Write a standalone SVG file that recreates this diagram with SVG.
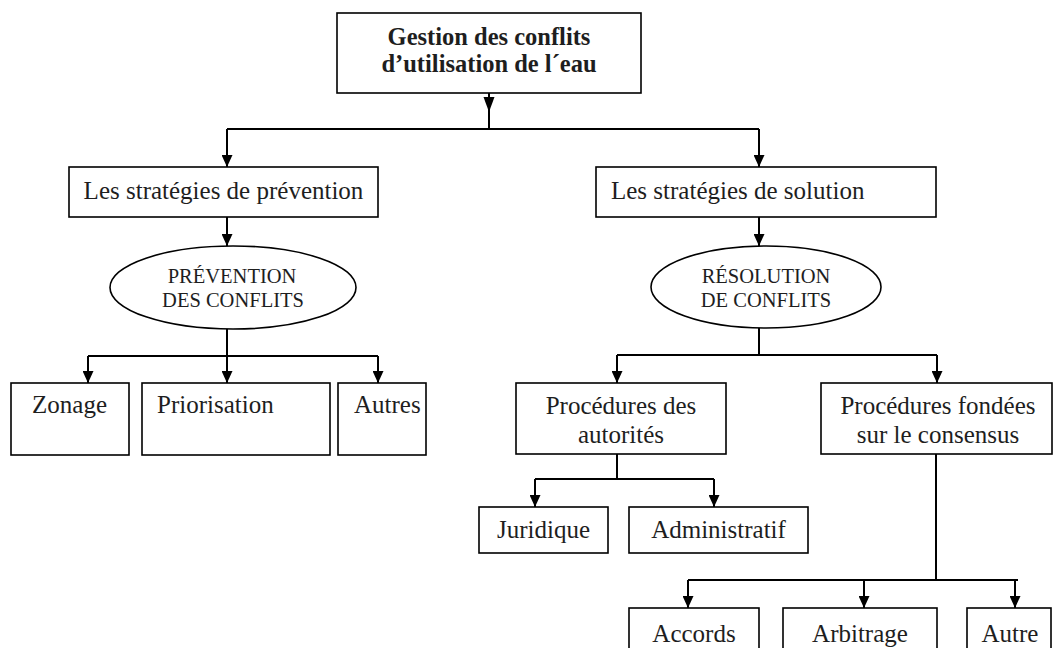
<svg xmlns="http://www.w3.org/2000/svg" width="1054" height="648" viewBox="0 0 1054 648">
<style>
.box{fill:#fff;stroke:#000;stroke-width:1.6}
.t{font-family:"Liberation Serif","Times New Roman",serif;font-size:25px;fill:#1e1e1e}
.b{font-weight:bold;font-size:24.5px}
.s{font-size:20.5px}
.c{text-anchor:middle}
.ln{fill:none;stroke:#000;stroke-width:2}
.ah{fill:#000}
</style>
<defs>
<marker id="arr" viewBox="0 0 12 11" refX="12" refY="5.5" markerWidth="12" markerHeight="11" markerUnits="userSpaceOnUse" orient="auto">
<path d="M0,0 L12,5.5 L0,11 z" fill="#000"/>
</marker>
</defs>
<rect width="1054" height="648" fill="#fff"/>
<g id="connectors">
<path class="ln" d="M489,93 V129"/>
<path class="ah" d="M483.5,97 H494.5 L489,112 z"/>
<path class="ln" d="M227,129 H759"/>
<path class="ln" d="M227,129 V167" marker-end="url(#arr)"/>
<path class="ln" d="M759,129 V167" marker-end="url(#arr)"/>
<path class="ln" d="M227,217 V246" marker-end="url(#arr)"/>
<path class="ln" d="M759,217 V246" marker-end="url(#arr)"/>
<path class="ln" d="M227,329 V356 M88,356 H378"/>
<path class="ln" d="M88,356 V383" marker-end="url(#arr)"/>
<path class="ln" d="M227,356 V383" marker-end="url(#arr)"/>
<path class="ln" d="M378,356 V383" marker-end="url(#arr)"/>
<path class="ln" d="M759,328 V355 M617,355 H937"/>
<path class="ln" d="M617,355 V383" marker-end="url(#arr)"/>
<path class="ln" d="M937,355 V383" marker-end="url(#arr)"/>
<path class="ln" d="M617,454 V479 M535,479 H714"/>
<path class="ln" d="M535,479 V507" marker-end="url(#arr)"/>
<path class="ln" d="M714,479 V507" marker-end="url(#arr)"/>
<path class="ln" d="M936,454 V580 M688,580 H1018"/>
<path class="ln" d="M688,580 V608" marker-end="url(#arr)"/>
<path class="ln" d="M864,580 V608" marker-end="url(#arr)"/>
<path class="ln" d="M1015,580 V608" marker-end="url(#arr)"/>
</g>
<g id="root">
<rect class="box" x="337" y="13" width="304" height="80"/>
<text class="t b c" x="489" y="45">Gestion des conflits</text>
<text class="t b c" x="489" y="72">d’utilisation de l´eau</text>
</g>
<g id="prevention">
<rect class="box" x="69" y="167" width="309" height="50"/>
<text class="t c" x="223.5" y="199">Les stratégies de prévention</text>
</g>
<g id="solution">
<rect class="box" x="596" y="167" width="340" height="50"/>
<text class="t" x="611" y="199">Les stratégies de solution</text>
</g>
<g id="prevention-conflits">
<ellipse class="box" cx="233" cy="287.5" rx="123" ry="41.5"/>
<text class="t s c" x="232" y="283">PRÉVENTION</text>
<text class="t s c" x="233" y="307">DES CONFLITS</text>
</g>
<g id="resolution-conflits">
<ellipse class="box" cx="766" cy="287" rx="115" ry="41"/>
<text class="t s c" x="766" y="283">RÉSOLUTION</text>
<text class="t s c" x="766" y="307">DE CONFLITS</text>
</g>
<g id="zonage">
<rect class="box" x="11" y="383" width="118" height="72"/>
<text class="t c" x="69.5" y="413">Zonage</text>
</g>
<g id="priorisation">
<rect class="box" x="142" y="383" width="188" height="72"/>
<text class="t" x="157" y="413">Priorisation</text>
</g>
<g id="autres">
<rect class="box" x="338" y="383" width="88" height="72"/>
<text class="t" x="354" y="413">Autres</text>
</g>
<g id="autorites">
<rect class="box" x="516" y="383" width="210" height="71"/>
<text class="t c" x="621" y="414">Procédures des</text>
<text class="t c" x="621" y="443">autorités</text>
</g>
<g id="consensus">
<rect class="box" x="821" y="383" width="231" height="71"/>
<text class="t c" x="938" y="414">Procédures fondées</text>
<text class="t c" x="938" y="443">sur le consensus</text>
</g>
<g id="juridique">
<rect class="box" x="479" y="507" width="129" height="46"/>
<text class="t c" x="543.5" y="538">Juridique</text>
</g>
<g id="administratif">
<rect class="box" x="629" y="507" width="179" height="46"/>
<text class="t c" x="718.5" y="538">Administratif</text>
</g>
<g id="accords">
<rect class="box" x="629" y="608" width="130" height="60"/>
<text class="t c" x="694" y="642">Accords</text>
</g>
<g id="arbitrage">
<rect class="box" x="783" y="608" width="154" height="60"/>
<text class="t c" x="860" y="642">Arbitrage</text>
</g>
<g id="autre">
<rect class="box" x="967" y="608" width="84" height="60"/>
<text class="t c" x="1010" y="642">Autre</text>
</g>
</svg>
